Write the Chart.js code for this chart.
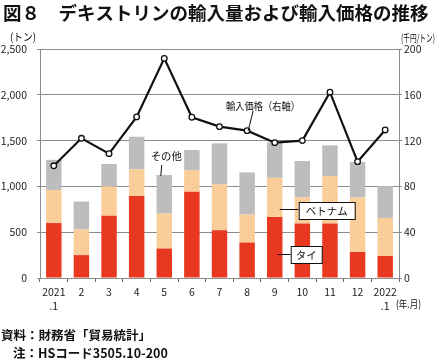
<!DOCTYPE html>
<html>
<head>
<meta charset="utf-8">
<script src="https://cdn.jsdelivr.net/npm/chart.js@4"></script>
<style>
  html, body { margin: 0; padding: 0; background: #fff; }
  #c { display: block; }
</style>
</head>
<body>
<canvas id="c" width="437" height="361"></canvas>
<script>
const months = [['2021', '.1'], '2', '3', '4', '5', '6', '7', '8', '9', '10', '11', '12', ['2022', '.1']];
const thai = [600, 250, 680, 895, 322, 941, 522, 387, 667, 595, 595, 284, 241];
const vietnam = [360, 280, 320, 290, 382, 237, 500, 306, 427, 285, 517, 596, 415];
const others = [330, 305, 245, 357, 420, 219, 448, 460, 386, 397, 336, 386, 347];
const price = [98, 122, 108.6, 140.7, 191.8, 140.4, 132.2, 128.7, 118.2, 120, 162.3, 101.6, 129.3];
const leftTicks = [0, 500, 1000, 1500, 2000, 2500];
const rightTicks = [0, 40, 80, 120, 160, 200];

const JP = '"Noto Sans CJK JP", "Noto Sans", sans-serif';

// dotted light orange fill for Vietnam
function dotPattern() {
  const p = document.createElement('canvas');
  p.width = 4; p.height = 4;
  const g = p.getContext('2d');
  g.fillStyle = '#fcd09c';
  g.fillRect(0, 0, 4, 4);
  g.fillStyle = '#f4bc82';
  g.fillRect(0, 0, 1, 1);
  g.fillRect(2, 2, 1, 1);
  return g.createPattern(p, 'repeat');
}

const textPlugin = {
  id: 'texts',
  afterDraw(chart) {
    const ctx = chart.ctx;
    const xs = chart.scales.x;
    ctx.save();
    ctx.fillStyle = '#111';
    ctx.strokeStyle = '#111';
    ctx.textBaseline = 'middle';

    // title
    ctx.textAlign = 'left';
    ctx.font = 'bold 18.5px ' + JP;
    ctx.fillText('図８　デキストリンの輸入量および輸入価格の推移', 3, 13, 430);

    // axis units
    ctx.font = '10.5px ' + JP;
    ctx.fillText('(トン)', 10, 37, 26);
    ctx.fillText('(千円/トン)', 401, 38, 34);
    ctx.fillText('(年.月)', 396, 304, 25);

    // source notes
    ctx.font = 'bold 12.5px ' + JP;
    ctx.fillText('資料：財務省「貿易統計」', 1, 335, 158);
    ctx.fillText('注：HSコード3505.10-200', 13, 353, 162);

    // annotations
    ctx.lineWidth = 1;
    const cx = i => xs.getPixelForValue(i);
    ctx.font = '10.5px ' + JP;
    ctx.textAlign = 'center';

    // その他
    ctx.fillText('その他', cx(4) + 2, 156, 31);
    ctx.beginPath();
    ctx.moveTo(cx(4) - 2.5, 165);
    ctx.lineTo(cx(4) - 3.5, 176);
    ctx.stroke();

    // 輸入価格（右軸）
    ctx.fillText('輸入価格（右軸）', cx(7) + 16, 106, 74);
    ctx.beginPath();
    ctx.moveTo(cx(7) + 6, 111);
    ctx.lineTo(cx(7) + 1, 131);
    ctx.stroke();

    // ベトナム box
    const bx = cx(8) + 24, by = 202;
    ctx.beginPath();
    ctx.moveTo(cx(8) + 5, 209.5);
    ctx.lineTo(bx, 209.5);
    ctx.stroke();
    ctx.fillStyle = '#fff';
    ctx.fillRect(bx, by, 56, 17);
    ctx.strokeRect(bx + 0.5, by + 0.5, 56, 17);
    ctx.fillStyle = '#111';
    ctx.fillText('ベトナム', bx + 28, by + 9);

    // タイ box
    const tx = cx(8) + 16, ty = 246;
    ctx.beginPath();
    ctx.moveTo(cx(8) + 3, 254.5);
    ctx.lineTo(tx, 254.5);
    ctx.stroke();
    ctx.fillStyle = '#fff';
    ctx.fillRect(tx, ty, 31, 17);
    ctx.strokeRect(tx + 0.5, ty + 0.5, 31, 17);
    ctx.fillStyle = '#111';
    ctx.fillText('タイ', tx + 15.5, ty + 9);

    ctx.restore();
  }
};

const ctx = document.getElementById('c').getContext('2d');
const chart = new Chart(ctx, {
  type: 'bar',
  data: {
    labels: months,
    datasets: [
      {
        type: 'line',
        label: '輸入価格（右軸）',
        data: price,
        yAxisID: 'y1',
        borderColor: '#111',
        borderWidth: 2.2,
        pointRadius: 2.8,
        pointBorderWidth: 1.3,
        pointBackgroundColor: '#fff',
        pointBorderColor: '#111',
        tension: 0,
        order: 0
      },
      { label: 'タイ', data: thai, backgroundColor: '#e8381f', stack: 's', order: 1 },
      { label: 'ベトナム', data: vietnam, backgroundColor: dotPattern(), stack: 's', order: 1 },
      { label: 'その他', data: others, backgroundColor: '#bdbdbd', stack: 's', order: 1 }
    ]
  },
  options: {
    responsive: false,
    animation: false,
    layout: { padding: { top: 49, left: 0, right: 0, bottom: 0 } },
    datasets: { bar: { barPercentage: 0.56, categoryPercentage: 1 } },
    plugins: { legend: { display: false }, tooltip: { enabled: false } },
    scales: {
      x: {
        stacked: true,
        afterFit(s) { s.height = 83; },
        grid: { drawOnChartArea: false, color: '#666', tickLength: 4, offset: true },
        border: { color: '#8c8c8c' },
        ticks: {
          color: '#222',
          font: { family: JP, size: 10.5, lineHeight: 1.35 },
          padding: 3,
          maxRotation: 0,
          autoSkip: false
        }
      },
      y: {
        stacked: true,
        position: 'left',
        min: 0,
        max: 2500,
        afterFit(s) { s.width = 40; },
        afterBuildTicks(s) { s.ticks = leftTicks.map(v => ({ value: v })); },
        grid: { color: '#8c8c8c', tickLength: 3 },
        border: { color: '#8c8c8c' },
        ticks: {
          color: '#222',
          padding: 10,
          font: { family: JP, size: 10.5 },
          callback: v => v.toLocaleString('en-US')
        }
      },
      y1: {
        position: 'right',
        min: 0,
        max: 200,
        afterFit(s) { s.width = 38; },
        afterBuildTicks(s) { s.ticks = rightTicks.map(v => ({ value: v })); },
        grid: { drawOnChartArea: false, color: '#8c8c8c', tickLength: 3 },
        border: { color: '#8c8c8c' },
        ticks: {
          color: '#222',
          padding: 2,
          font: { family: JP, size: 10.5 }
        }
      }
    }
  },
  plugins: [textPlugin]
});
</script>
</body>
</html>
